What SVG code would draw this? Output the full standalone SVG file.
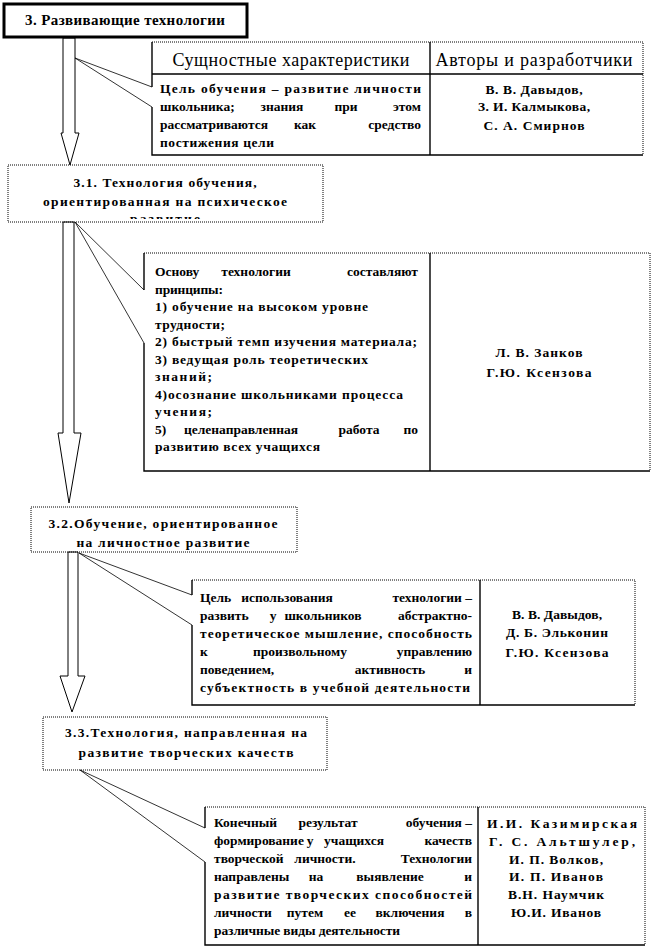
<svg xmlns="http://www.w3.org/2000/svg" width="653" height="948" viewBox="0 0 653 948">
<style>
text{font-weight:bold;font-size:13.5px;fill:#000}
.h{font-weight:normal;font-size:18px}
.big{font-size:15px}
.c{text-anchor:middle}
.e{text-anchor:end}
.s{stroke:#000;stroke-width:1.4;fill:none}
.d{stroke:#000;stroke-width:1;stroke-dasharray:1 1;fill:none}
.ar{fill:#fff;stroke:#000;stroke-width:1}
.cl{stroke:#000;stroke-width:0.8;fill:none}
</style>
<defs>
<clipPath id="clip31"><rect x="8" y="165" width="315" height="54"/></clipPath>
</defs>
<rect width="653" height="948" fill="#fff"/>
<g font-family="Liberation Serif, Times New Roman, Times, DejaVu Serif, serif">

<g id="connectors">
<polygon class="ar" points="63,38 75,38 75,133 79,133 70,165 61,133 63,133"/>
<polygon class="ar" points="63,222 74,222 74,433 81,433 69,503 58,433 63,433"/>
<polygon class="ar" points="68,552 78,552 78,676 85,676 72,712 60,676 68,676"/>
</g>

<g id="n3">
<rect x="4" y="4" width="243" height="33" fill="#fff" stroke="#000" stroke-width="3"/>
<text class="big c" x="125" y="25" textLength="200">3. Развивающие технологии</text>
</g>

<g id="t1">
<rect x="152" y="42" width="491" height="113" fill="#fff"/>
<path class="d" d="M152,42H643V155"/>
<path class="s" d="M152,42V87M152,107V155H643M430,42V155M152,74H643"/>
<path class="cl" d="M152,87L75,58L152,107"/>
<text class="h c" x="291" y="66" textLength="237">Сущностные характеристики</text>
<text class="h c" x="534" y="66" textLength="197">Авторы и разработчики</text>
<text x="160" y="93" textLength="261">Цель обучения – развитие личности</text>
<text y="111"><tspan x="160">школьника;</tspan><tspan class="c" x="282">знания</tspan><tspan class="c" x="346">при</tspan><tspan class="e" x="421">этом</tspan></text>
<text y="129"><tspan x="160">рассматриваются</tspan><tspan class="c" x="305">как</tspan><tspan class="e" x="421">средство</tspan></text>
<text x="160" y="147" textLength="114">постижения цели</text>
<text class="c" x="534" y="94" textLength="97">В. В. Давыдов,</text>
<text class="c" x="534" y="111" textLength="112">З. И. Калмыкова,</text>
<text class="c" x="534" y="130" textLength="101">С. А. Смирнов</text>
</g>

<g id="n31">
<rect class="d" x="8" y="165" width="315" height="57" fill="#fff"/>
<text class="c" x="165" y="187" textLength="183">3.1. Технология обучения,</text>
<text class="c" x="165" y="206" textLength="244">ориентированная на психическое</text>
<text class="c" x="165" y="222.5" clip-path="url(#clip31)" textLength="70">развитие</text>
</g>

<g id="t2">
<rect x="144" y="253" width="506" height="218" fill="#fff"/>
<path class="d" d="M144,253H650V471"/>
<path class="s" d="M144,253V290M144,343V471H650M430,253V471"/>
<path class="cl" d="M144,290L75,222L144,343"/>
<text y="276"><tspan x="155">Основу</tspan><tspan class="c" x="256">технологии</tspan><tspan class="e" x="418">составляют</tspan></text>
<text x="155" y="293.5" textLength="68">принципы:</text>
<text x="155" y="311" textLength="213">1) обучение на высоком уровне</text>
<text x="155" y="328.5" textLength="70">трудности;</text>
<text x="155" y="346" textLength="262">2) быстрый темп изучения материала;</text>
<text x="155" y="363.5" textLength="213">3) ведущая  роль теоретических</text>
<text x="155" y="381" textLength="57">знаний;</text>
<text x="155" y="398.5" textLength="248">4)осознание школьниками процесса</text>
<text x="155" y="416" textLength="57">учения;</text>
<text y="433.5"><tspan x="155">5)</tspan><tspan class="c" x="241">целенаправленная</tspan><tspan class="c" x="359">работа</tspan><tspan class="e" x="418">по</tspan></text>
<text x="155" y="451" textLength="165">развитию всех учащихся</text>
<text class="c" x="539" y="357" textLength="87">Л. В. Занков</text>
<text class="c" x="539" y="377" textLength="105">Г.Ю. Ксензова</text>
</g>

<g id="n32">
<rect class="d" x="31" y="507" width="266" height="45" fill="#fff"/>
<text class="c" x="163" y="528" textLength="229">3.2.Обучение, ориентированное</text>
<text class="c" x="163" y="547" textLength="173">на личностное развитие</text>
</g>

<g id="t3">
<rect x="192" y="580" width="443" height="125" fill="#fff"/>
<path class="d" d="M192,580H635V705"/>
<path class="s" d="M192,580V595M192,625V705H635M480,580V705"/>
<path class="cl" d="M192,595L79,553L192,625"/>
<text y="602"><tspan x="200">Цель</tspan><tspan class="c" x="287">использования</tspan><tspan class="e" x="472">технологии –</tspan></text>
<text y="620"><tspan x="200">развить</tspan><tspan class="c" x="273">у</tspan><tspan class="c" x="323">школьников</tspan><tspan class="e" x="472">абстрактно-</tspan></text>
<text x="200" y="638" textLength="272">теоретическое мышление, способность</text>
<text y="656"><tspan x="200">к</tspan><tspan class="c" x="300">произвольному</tspan><tspan class="e" x="472">управлению</tspan></text>
<text y="674"><tspan x="200">поведением,</tspan><tspan class="c" x="390">активность</tspan><tspan class="e" x="472">и</tspan></text>
<text x="200" y="692" textLength="270">субъектность в учебной деятельности</text>
<text class="c" x="557" y="619" textLength="90">В. В. Давыдов,</text>
<text class="c" x="557" y="637" textLength="102">Д. Б. Эльконин</text>
<text class="c" x="557" y="657" textLength="103">Г.Ю. Ксензова</text>
</g>

<g id="n33">
<rect class="d" x="43" y="717" width="284" height="53" fill="#fff"/>
<text class="c" x="186" y="737" textLength="242">3.3.Технология, направленная на</text>
<text class="c" x="186" y="757" textLength="215">развитие творческих качеств</text>
</g>

<g id="t4">
<rect x="205" y="807" width="440" height="138" fill="#fff"/>
<path class="d" d="M205,807H645V945"/>
<path class="s" d="M205,807V828M205,862V945H645M478,807V945"/>
<path class="cl" d="M205,828L80,770L205,862"/>
<text y="827"><tspan x="214">Конечный</tspan><tspan class="c" x="328">результат</tspan><tspan class="e" x="472">обучения –</tspan></text>
<text y="845"><tspan x="214">формирование</tspan><tspan class="c" x="310">у</tspan><tspan class="c" x="354">учащихся</tspan><tspan class="e" x="472">качеств</tspan></text>
<text y="863"><tspan x="214">творческой</tspan><tspan class="c" x="325">личности.</tspan><tspan class="e" x="472">Технологии</tspan></text>
<text y="881"><tspan x="214">направлены</tspan><tspan class="c" x="316">на</tspan><tspan class="c" x="390">выявление</tspan><tspan class="e" x="472">и</tspan></text>
<text x="214" y="899" textLength="258">развитие творческих способностей</text>
<text y="917"><tspan x="214">личности</tspan><tspan class="c" x="305">путем</tspan><tspan class="c" x="350">ее</tspan><tspan class="c" x="410">включения</tspan><tspan class="e" x="472">в</tspan></text>
<text x="214" y="935" textLength="186">различные виды деятельности</text>
<text class="c" x="562" y="828" textLength="150">И.И. Казимирская</text>
<text class="c" x="562" y="846" textLength="146">Г. С. Альтшулер,</text>
<text class="c" x="556" y="864" textLength="94">И. П. Волков,</text>
<text class="c" x="556" y="881" textLength="94">И. П. Иванов</text>
<text class="c" x="556" y="899" textLength="96">В.Н. Наумчик</text>
<text class="c" x="556" y="917" textLength="90">Ю.И. Иванов</text>
</g>
</g>
</svg>
